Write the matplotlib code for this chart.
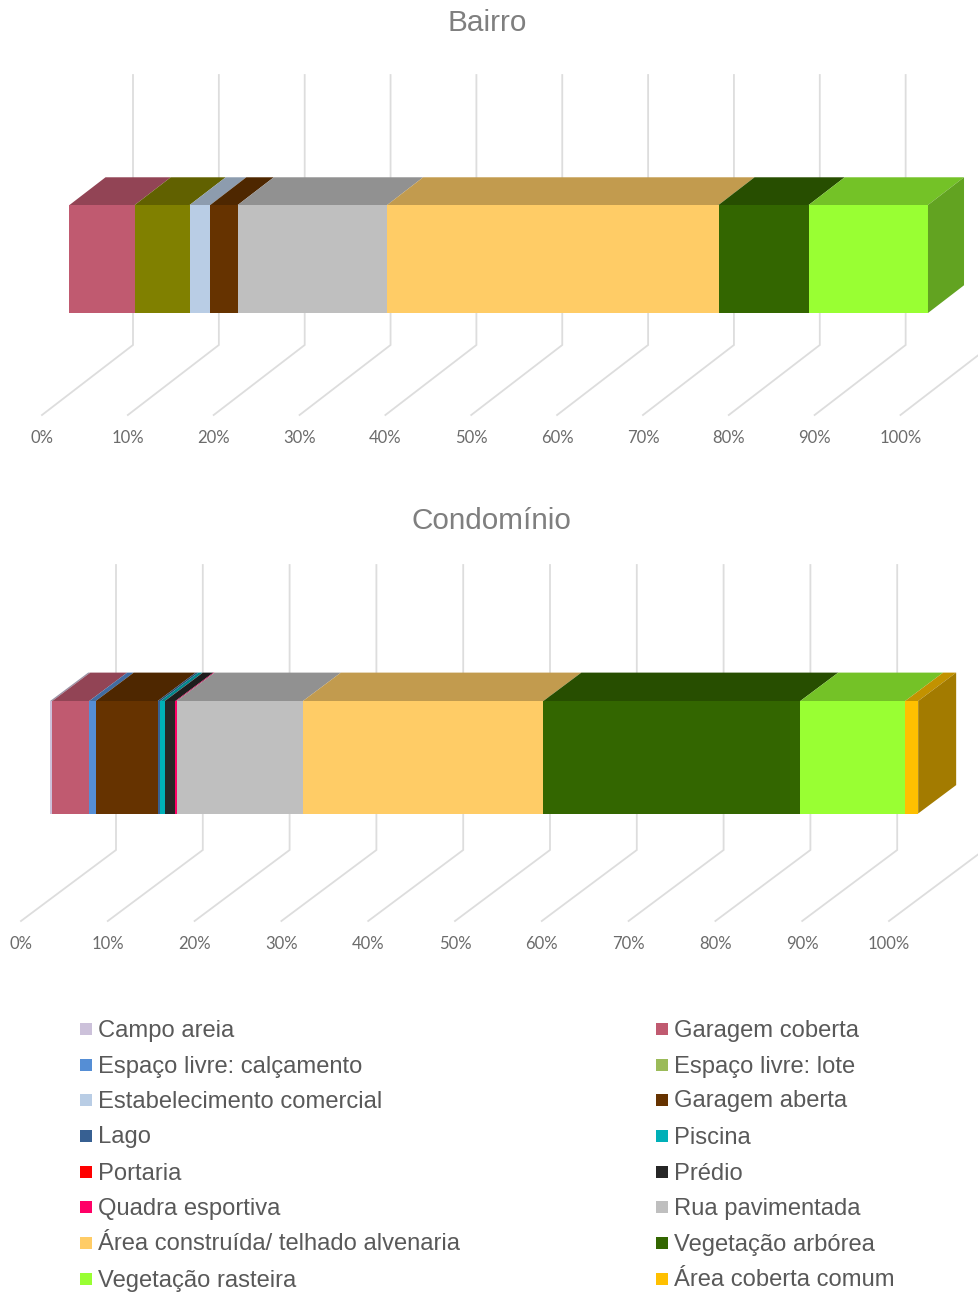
import matplotlib
matplotlib.use("Agg")
import matplotlib.pyplot as plt
from matplotlib.patches import Polygon, Rectangle

# Land-use classes, in stacking order
categories = ["Campo areia", "Garagem coberta", "Espaço livre: calçamento", "Espaço livre: lote",
              "Estabelecimento comercial", "Garagem aberta", "Lago", "Piscina", "Portaria", "Prédio",
              "Quadra esportiva", "Rua pavimentada", "Área construída/ telhado alvenaria",
              "Vegetação arbórea", "Vegetação rasteira", "Área coberta comum"]
bar_colors = ["#CCC1DA", "#C05A70", "#558ED5", "#808000", "#B9CDE5", "#663300", "#376092", "#00B0B8",
              "#FF0000", "#262626", "#FF0066", "#BFBFBF", "#FFCC66", "#336600", "#99FF33", "#FFC000"]
legend_colors = ["#CCC1DA", "#C05A70", "#558ED5", "#9BBB59", "#B9CDE5", "#663300", "#376092", "#00B0B8",
                 "#FF0000", "#262626", "#FF0066", "#BFBFBF", "#FFCC66", "#336600", "#99FF33", "#FFC000"]

# Shares in percent
bairro_values = [0, 7.6, 0, 6.4, 2.4, 3.2, 0, 0, 0, 0, 0, 17.4, 38.6, 10.5, 13.9, 0]
condominio_values = [0.25, 4.25, 0.75, 0, 0, 7.15, 0.3, 0.5, 0.02, 1.2, 0.15, 14.55, 27.7, 29.6, 12.08, 1.5]
tick_values = list(range(0, 101, 10))

W, H = 979, 1293
fig = plt.figure(figsize=(W / 100, H / 100), dpi=100, facecolor="white")
bg = fig.add_axes([0, 0, 1, 1])
bg.set_xlim(0, W)
bg.set_ylim(H, 0)
bg.axis("off")


def shade(color, factor):
    r, g, b = matplotlib.colors.to_rgb(color)
    return (r * factor, g * factor, b * factor)


def draw_chart(values, title, title_x, title_y, x0, scale, floor_y, wall_dx, wall_dy, wall_h,
               bar_z, bar_dz, bar_bottom, bar_top, label_y):
    """Oblique 3D stacked bar: x in percent, y in pixels above the front floor edge."""
    top_px = floor_y - wall_dy - wall_h - 10
    ax = fig.add_axes([0, 1 - floor_y / H - 0.02, 1, (floor_y - top_px) / H + 0.02])
    ax.set_xlim(-x0 / scale, (W - x0) / scale)
    ax.set_ylim(-0.02 * H, floor_y - top_px)
    ax.axis("off")
    ax.patch.set_alpha(0)

    def project(p, z, h):
        return (p + z * wall_dx / scale, z * wall_dy + h)

    grid = "#DDDDDD"
    for t in tick_values:
        xs, ys = zip(project(t, 0, 0), project(t, 1, 0), project(t, 1, wall_h))
        ax.plot(xs, ys, color=grid, lw=1.3, zorder=1, solid_joinstyle="miter")
        ax.text(t, floor_y - label_y, f"{t}%", ha="center", va="center",
                fontsize=12, color="#6B6B6B", family="Lato", zorder=5)

    # Bar heights measured above the front floor edge, at the front face depth
    z0 = bar_z
    z1 = bar_z + bar_dz
    h0 = floor_y - bar_bottom - z0 * wall_dy
    h1 = floor_y - bar_top - z0 * wall_dy

    left = 0
    last = None
    for val, col in zip(values, bar_colors):
        if val <= 0:
            continue
        right = left + val
        ax.add_patch(Polygon([project(left, z0, h0), project(right, z0, h0),
                              project(right, z0, h1), project(left, z0, h1)],
                             closed=True, fc=col, ec="none", zorder=3))
        ax.add_patch(Polygon([project(left, z0, h1), project(right, z0, h1),
                              project(right, z1, h1), project(left, z1, h1)],
                             closed=True, fc=shade(col, 0.76), ec="none", zorder=3))
        left = right
        last = col
    ax.add_patch(Polygon([project(left, z0, h0), project(left, z1, h0),
                          project(left, z1, h1), project(left, z0, h1)],
                         closed=True, fc=shade(last, 0.64), ec="none", zorder=3))

    bg.text(title_x, title_y, title, ha="center", va="center", fontsize=21.4,
            color="#7F7F7F", family="Liberation Sans")


draw_chart(bairro_values, "Bairro", 487, 23, 42.0, 8.585, 415, 91, 70, 270,
           0.302, 0.396, 313, 205, 438)
draw_chart(condominio_values, "Condomínio", 491, 521, 21.0, 8.68, 921, 95, 71, 285,
           0.307, 0.40, 813.5, 701, 944)

# Legend laid out in two columns
rows = [1029, 1065, 1100, 1136, 1172, 1207, 1243, 1279]
for i, (name, col) in enumerate(zip(categories, legend_colors)):
    r = rows[i // 2]
    sx, tx = (80, 98) if i % 2 == 0 else (656, 674)
    bg.add_patch(Rectangle((sx, r - 6), 12, 12, fc=col, ec="none"))
    bg.text(tx, r + 7.5, name, va="baseline", ha="left", fontsize=17.15, color="#595959",
            family="Liberation Sans")

fig.savefig("out.png", dpi=100, facecolor="white")
